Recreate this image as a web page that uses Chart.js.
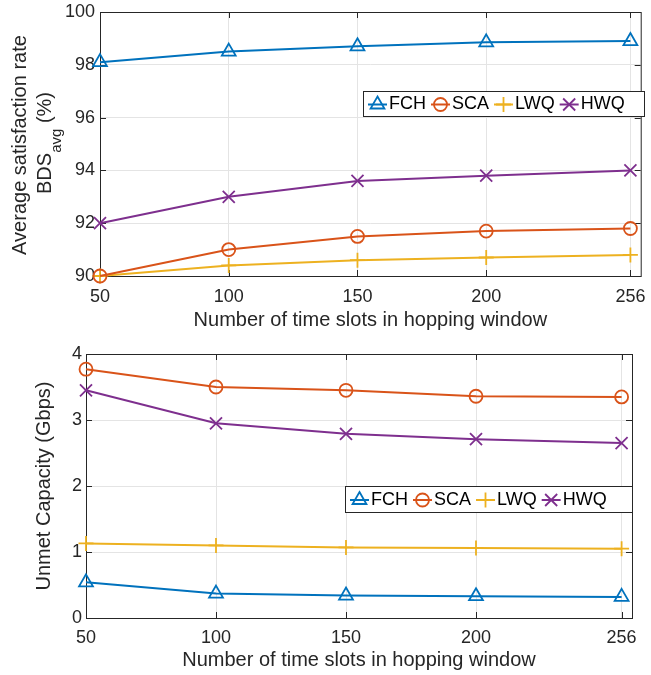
<!DOCTYPE html>
<html>
<head>
<meta charset="utf-8">
<script src="https://cdn.jsdelivr.net/npm/chart.js@4.4.0/dist/chart.umd.min.js"></script>
<style>
  body { margin: 0; background: #fff; }
  #wrap { position: relative; width: 651px; height: 675px; }
  canvas { position: absolute; left: 0; }
</style>
</head>
<body>
<div id="wrap">
  <canvas id="rateChart" width="651" height="335" style="top:0"></canvas>
  <canvas id="unmetChart" width="651" height="340" style="top:335px"></canvas>
</div>
<script>
// x positions (time slots)
const slots = [50, 100, 150, 200, 256];

// top: average satisfaction rate (%)
const fchRate = [98.1, 98.5, 98.7, 98.85, 98.9];
const scaRate = [90.0, 91.0, 91.5, 91.7, 91.8];
const lwqRate = [90.0, 90.4, 90.6, 90.7, 90.8];
const hwqRate = [92.0, 93.0, 93.6, 93.8, 94.0];
const rateTicks = [90, 92, 94, 96, 98, 100];

// bottom: unmet capacity (Gbps)
const fchUnmet = [0.54, 0.37, 0.34, 0.33, 0.32];
const scaUnmet = [3.77, 3.50, 3.45, 3.36, 3.35];
const lwqUnmet = [1.13, 1.10, 1.07, 1.06, 1.05];
const hwqUnmet = [3.45, 2.95, 2.79, 2.71, 2.65];
const unmetTicks = [0, 1, 2, 3, 4];

const FONT = '"Liberation Sans", Arial, sans-serif';
const INK = '#262626';
const GRID = '#e4e4e4';
Chart.defaults.font.family = FONT;
Chart.defaults.color = INK;

const series = [
  { label: 'FCH', color: '#0072BD', style: 'triangle', r: 8 },
  { label: 'SCA', color: '#D95319', style: 'circle', r: 6.5 },
  { label: 'LWQ', color: '#EDB120', style: 'cross', r: 7.5 },
  { label: 'HWQ', color: '#7E2F8E', style: 'crossRot', r: 8.5 }
];

function makeSets(lists) {
  return series.map((s, i) => ({
    label: s.label,
    data: slots.map((x, k) => ({ x: x, y: lists[i][k] })),
    borderColor: s.color,
    backgroundColor: 'transparent',
    pointBackgroundColor: 'transparent',
    pointBorderColor: s.color,
    pointStyle: s.style,
    pointRadius: s.r,
    pointBorderWidth: 1.8,
    borderWidth: 2,
    tension: 0,
    clip: false
  }));
}

// box, inward ticks, axis titles and legend
function decor(cfg) {
  return {
    id: 'decor',
    beforeDatasetsDraw(chart) {
      const { ctx, chartArea: a, scales } = chart;
      ctx.save();
      ctx.strokeStyle = INK;
      ctx.lineWidth = 1;
      ctx.strokeRect(a.left + 0.5, a.top + 0.5, a.right - a.left, a.bottom - a.top);
      ctx.beginPath();
      scales.x.ticks.forEach(t => {
        const p = Math.round(scales.x.getPixelForValue(t.value)) + 0.5;
        ctx.moveTo(p, a.bottom); ctx.lineTo(p, a.bottom - 6);
        ctx.moveTo(p, a.top); ctx.lineTo(p, a.top + 6);
      });
      scales.y.ticks.forEach(t => {
        const p = Math.round(scales.y.getPixelForValue(t.value)) + 0.5;
        ctx.moveTo(a.left, p); ctx.lineTo(a.left + 6, p);
        ctx.moveTo(a.right, p); ctx.lineTo(a.right - 6, p);
      });
      ctx.stroke();
      ctx.restore();
    },
    afterDraw(chart) {
      const { ctx, chartArea: a } = chart;
      ctx.save();
      ctx.fillStyle = INK;
      ctx.font = '20px ' + FONT;
      ctx.textAlign = 'center';
      ctx.textBaseline = 'middle';
      ctx.fillText('Number of time slots in hopping window', (a.left + a.right) / 2, cfg.xTitleY);

      // y title(s), rotated
      ctx.textBaseline = 'alphabetic';
      ctx.textAlign = 'left';
      cfg.yTitle.forEach(line => {
        ctx.save();
        ctx.translate(line.x, line.cy);
        ctx.rotate(-Math.PI / 2);
        let w = 0;
        line.parts.forEach(p => { ctx.font = p.size + 'px ' + FONT; w += ctx.measureText(p.t).width; });
        let x = -w / 2;
        line.parts.forEach(p => {
          ctx.font = p.size + 'px ' + FONT;
          ctx.fillText(p.t, x, p.dy || 0);
          x += ctx.measureText(p.t).width;
        });
        ctx.restore();
      });

      // legend
      const L = cfg.legend;
      ctx.fillStyle = '#fff';
      ctx.fillRect(L.x, L.y, L.w, L.h);
      ctx.strokeStyle = INK;
      ctx.lineWidth = 1;
      ctx.strokeRect(L.x + 0.5, L.y + 0.5, L.w, L.h);
      ctx.font = '18px ' + FONT;
      ctx.textBaseline = 'middle';
      const cy = L.y + L.h / 2 + 1;
      let x = L.x + 5;
      series.forEach(s => {
        ctx.strokeStyle = s.color;
        ctx.lineWidth = 2;
        ctx.beginPath();
        ctx.moveTo(x, cy); ctx.lineTo(x + 19, cy);
        ctx.stroke();
        ctx.lineWidth = 1.8;
        ctx.fillStyle = 'transparent';
        Chart.helpers.drawPoint(ctx, { pointStyle: s.style, radius: s.r, rotation: 0, borderWidth: 1.8 }, x + 9.5, cy);
        ctx.fillStyle = '#000';
        ctx.fillText(s.label, x + 21, cy);
        x += 21 + ctx.measureText(s.label).width + 5;
      });
      ctx.restore();
    }
  };
}

function makeChart(id, lists, yTicks, dims, cfg) {
  return new Chart(document.getElementById(id), {
    type: 'line',
    data: { datasets: makeSets(lists) },
    options: {
      responsive: false,
      animation: false,
      layout: { padding: { top: dims.top, right: dims.right, left: 0, bottom: 0 } },
      plugins: { legend: { display: false }, tooltip: { enabled: false } },
      scales: {
        x: {
          type: 'linear', min: 50, max: 260,
          afterBuildTicks: s => { s.ticks = slots.map(v => ({ value: v })); },
          afterFit: s => { s.height = dims.xHeight; s.paddingLeft = 0; s.paddingRight = 0; },
          grid: { color: GRID, drawTicks: false },
          border: { display: false },
          ticks: { font: { size: 18 }, padding: dims.xPad, maxRotation: 0, color: INK }
        },
        y: {
          min: yTicks[0], max: yTicks[yTicks.length - 1],
          afterBuildTicks: s => { s.ticks = yTicks.map(v => ({ value: v })); },
          afterFit: s => { s.width = dims.yWidth; s.paddingTop = 0; s.paddingBottom = 0; },
          grid: { color: GRID, drawTicks: false },
          border: { display: false },
          ticks: { font: { size: 18 }, padding: dims.yPad, color: INK }
        }
      }
    },
    plugins: [decor(cfg)]
  });
}

makeChart('rateChart', [fchRate, scaRate, lwqRate, hwqRate], rateTicks,
  { top: 12, right: 5, xHeight: 59, yWidth: 100, xPad: 10, yPad: 5 },
  {
    xTitleY: 320,
    yTitle: [
      { x: 26, cy: 145, parts: [{ t: 'Average satisfaction rate', size: 20 }] },
      { x: 51, cy: 143, parts: [{ t: 'BDS', size: 20 }, { t: 'avg', size: 15, dy: 10 }, { t: ' (%)', size: 20 }] }
    ],
    legend: { x: 363, y: 91, w: 281, h: 25 }
  });

makeChart('unmetChart', [fchUnmet, scaUnmet, lwqUnmet, hwqUnmet], unmetTicks,
  { top: 19, right: 19, xHeight: 57, yWidth: 86, xPad: 9, yPad: 4 },
  {
    xTitleY: 325,
    yTitle: [
      { x: 50, cy: 151, parts: [{ t: 'Unmet Capacity (Gbps)', size: 20 }] }
    ],
    legend: { x: 345, y: 151, w: 287, h: 26 }
  });
</script>
</body>
</html>
